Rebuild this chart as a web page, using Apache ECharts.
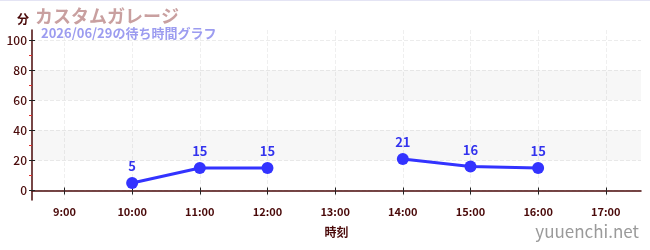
<!DOCTYPE html>
<html><head><meta charset="utf-8">
<script src="https://cdn.jsdelivr.net/npm/echarts@6/dist/echarts.min.js"></script>
<style>html,body{margin:0;padding:0;background:#fff}#c{width:650px;height:250px}#topline{position:absolute;left:0;top:0;width:650px;height:1px;background:#e4e4f4;z-index:5}</style>
</head><body><div id="topline"></div><div id="c"></div>
<script>
const hours = [10, 11, 12, 13, 14, 15, 16];
const waits = [5, 15, 15, null, 21, 16, 15];
const xTicks = [9, 10, 11, 12, 13, 14, 15, 16, 17];
const yTicks = [0, 20, 40, 60, 80, 100];
const yMinorTicks = [10, 30, 50, 70, 90];
const bands = [[20, 40], [60, 80]];
const title = 'カスタムガレージ';
const subtitle = '2026/06/29の待ち時間グラフ';

const dark = '#4a0a0a';
const font = '"Noto Sans CJK JP", "Noto Sans", sans-serif';
const yMin = -6.3, yMax = 106.7, xMin = 8.52, xMax = 17.52;

const chart = echarts.init(document.getElementById('c'));
const seriesData = hours.map((h, i) => [h, waits[i] == null ? '-' : waits[i]]);
chart.setOption({
  animation: false,
  textStyle: { fontFamily: font },
  title: [
    { text: title, left: 30, top: 2, textStyle: { fontSize: 18, fontWeight: 'bold', color: '#c9a0a0', fontFamily: font } },
    { text: subtitle, left: 36, top: 22, textStyle: { fontSize: 13, fontWeight: 'bold', color: '#9c9cf0', fontFamily: font } },
    { text: '分', left: 12, top: 8, textStyle: { fontSize: 12, fontWeight: 'bold', color: dark, fontFamily: font } },
    { text: 'yuuenchi.net', right: 6, bottom: 5, textStyle: { fontSize: 17, fontWeight: 'normal', color: '#9a9a9a', fontFamily: font } }
  ],
  grid: { left: 32, right: 9, top: 30, bottom: 50 },
  xAxis: [{
    type: 'value', min: xMin, max: xMax,
    name: '時刻', nameLocation: 'middle', nameGap: 26,
    nameTextStyle: { fontSize: 12, fontWeight: 'bold', color: dark },
    axisLine: { show: true, lineStyle: { color: dark, width: 1.5 } },
    axisTick: { show: true, customValues: xTicks, length: 4, lineStyle: { color: '#222' } },
    axisLabel: { customValues: xTicks, formatter: v => v + ':00', fontSize: 11, fontWeight: 'bold', color: dark, margin: 6 },
    splitLine: { show: true, lineStyle: { type: 'dashed', color: '#efefef' } }
  }, {
    type: 'value', min: xMin, max: xMax, position: 'bottom',
    axisLine: { show: false },
    axisTick: { show: true, inside: true, customValues: xTicks, length: 3, lineStyle: { color: '#222' } },
    axisLabel: { show: false, customValues: xTicks },
    splitLine: { show: false }
  }],
  yAxis: [{
    type: 'value', min: yMin, max: yMax,
    axisLine: { show: true, lineStyle: { color: dark, width: 1.5 } },
    axisTick: { show: true, customValues: yTicks, length: 3, lineStyle: { color: '#222' } },
    axisLabel: { customValues: yTicks, fontSize: 12, fontWeight: 500, color: dark, margin: 5 },
    splitLine: { show: true, lineStyle: { type: 'dashed', color: '#ececec' } }
  }, {
    type: 'value', min: yMin, max: yMax, position: 'left',
    axisLine: { show: false },
    axisTick: { show: true, inside: true, customValues: yTicks, length: 3, lineStyle: { color: '#222' } },
    axisLabel: { show: false, customValues: yTicks },
    splitLine: { show: false }
  }, {
    type: 'value', min: yMin, max: yMax, position: 'left',
    axisLine: { show: false },
    axisTick: { show: true, customValues: yMinorTicks, length: 3, lineStyle: { color: '#e03030' } },
    axisLabel: { show: false, customValues: yMinorTicks },
    splitLine: { show: false }
  }],
  series: [{
    type: 'line', data: seriesData, xAxisIndex: 0, yAxisIndex: 0,
    connectNulls: false,
    symbol: 'circle', symbolSize: 12,
    itemStyle: { color: '#3333ff' },
    lineStyle: { color: '#3333ff', width: 3 },
    label: { show: true, position: 'top', distance: 4, fontSize: 13, fontWeight: 'bold', color: '#3333ee' },
    markArea: {
      silent: true,
      itemStyle: { color: 'rgba(0,0,0,0.032)' },
      data: bands.map(b => [{ yAxis: b[0] }, { yAxis: b[1] }])
    },
    z: 3
  }]
});
</script></body></html>
